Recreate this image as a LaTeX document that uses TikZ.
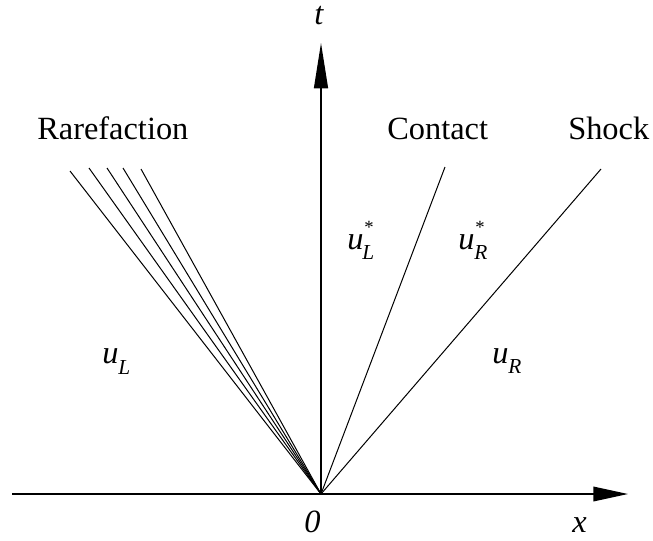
\documentclass[tikz,border=0pt]{standalone}
\usepackage{fontspec}
\setmainfont{Liberation Serif}
\usetikzlibrary{arrows.meta}
\begin{document}
\begin{tikzpicture}[x=0.75pt,y=-0.75pt,
  lbl/.style={font=\fontsize{24.3}{28}\selectfont, inner sep=0pt, anchor=base west},
  ilbl/.style={font=\fontsize{24.3}{28}\selectfont\itshape, inner sep=0pt, anchor=base west},
  sublbl/.style={font=\fontsize{16}{18}\selectfont\itshape, inner sep=0pt, anchor=base west},
  starlbl/.style={font=\fontsize{14}{16}\selectfont, inner sep=0pt, anchor=center},
  wave/.style={line width=0.75pt},
  axis/.style={line width=1pt}]
\useasboundingbox (0,0) rectangle (653,540);
% points
\coordinate (O) at (321,494);
\coordinate (xend) at (628,494);
\coordinate (xstart) at (12,494);
\coordinate (tend) at (321,43);
\coordinate (r1) at (70,171);
\coordinate (r2) at (89,168);
\coordinate (r3) at (107,168);
\coordinate (r4) at (123,168);
\coordinate (r5) at (141,169);
\coordinate (c1) at (445,167);
\coordinate (s1) at (601,169);
% axes
\draw[axis,-{Triangle[length=26pt,width=11pt]}] (xstart) -- (xend);
\draw[axis,-{Triangle[length=34pt,width=10.5pt]}] (O) -- (tend);
% waves
\foreach \p in {r1,r2,r3,r4,r5} \draw[wave] (O) -- (\p);
\draw[wave] (O) -- (c1);
\draw[wave] (O) -- (s1);
% labels
\node[lbl] (rare) at (37,139) {Rarefaction};
\node[lbl] (cont) at (387,139) {Contact};
\node[lbl] (shock) at (568,139) {Shock};
\node[ilbl] (tlab) at (314,24) {t};
\node[ilbl] (zero) at (304,532) {0};
\node[ilbl] (xlab) at (572,532) {x};
% states
\node[ilbl] (uL) at (102,363) {u};
\node[sublbl] (uLs) at (118,374) {L};
\node[ilbl] (uR) at (492,363) {u};
\node[sublbl] (uRs) at (508,373) {R};
\node[ilbl] (uLst) at (347,249) {u};
\node[sublbl] (uLsts) at (362,259) {L};
\node[starlbl] (uLstar) at (369,227) {*};
\node[ilbl] (uRst) at (458,249) {u};
\node[sublbl] (uRsts) at (474,259) {R};
\node[starlbl] (uRstar) at (480,227) {*};
\end{tikzpicture}
\end{document}
